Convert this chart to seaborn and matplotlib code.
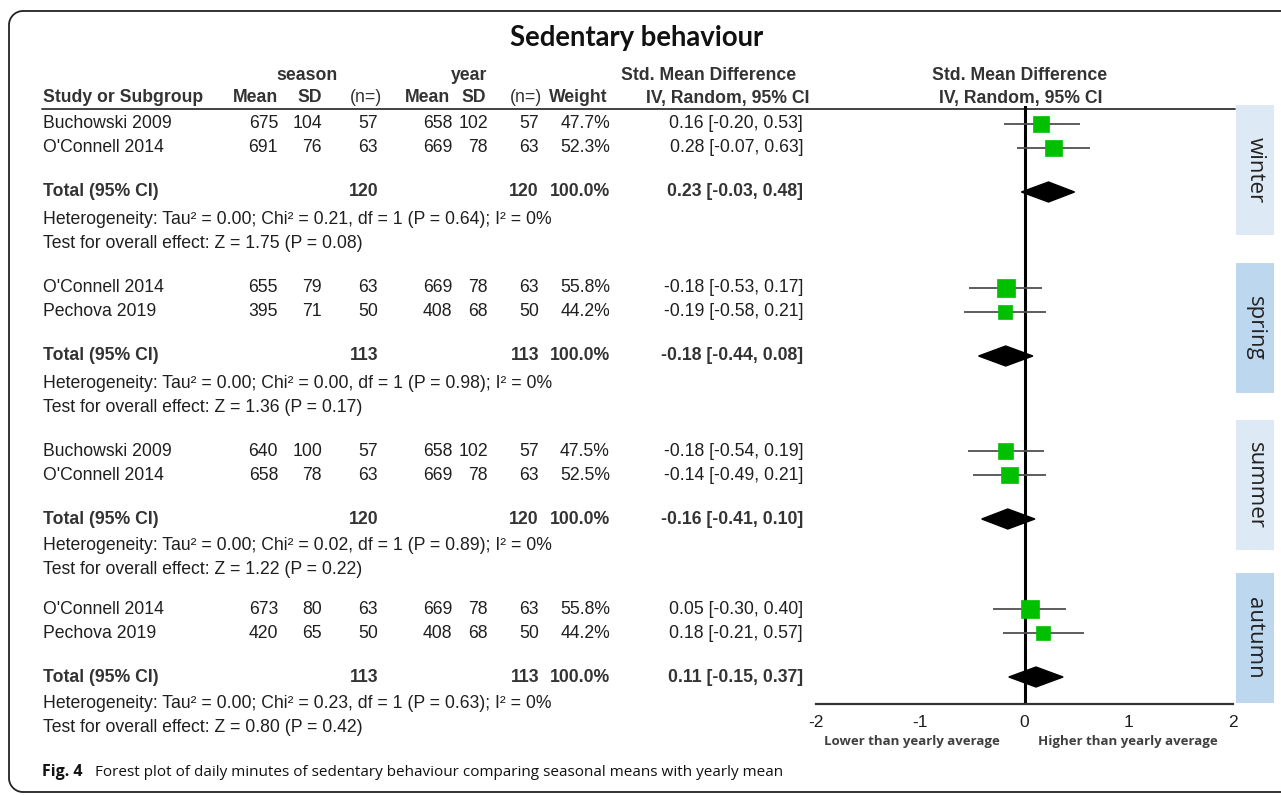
import numpy as np
import pandas as pd
import matplotlib.pyplot as plt
import seaborn as sns
from matplotlib.patches import Rectangle, Polygon

# ---- data ----
seasons = ['winter', 'spring', 'summer', 'autumn']
studies = [["Buchowski 2009", "O'Connell 2014"],
           ["O'Connell 2014", "Pechova 2019"],
           ["Buchowski 2009", "O'Connell 2014"],
           ["O'Connell 2014", "Pechova 2019"]]
season_mean = [[675, 691], [655, 395], [640, 658], [673, 420]]
season_sd = [[104, 76], [79, 71], [100, 78], [80, 65]]
season_n = [[57, 63], [63, 50], [57, 63], [63, 50]]
year_mean = [[658, 669], [669, 408], [658, 669], [669, 408]]
year_sd = [[102, 78], [78, 68], [102, 78], [78, 68]]
year_n = [[57, 63], [63, 50], [57, 63], [63, 50]]
weight = [[47.7, 52.3], [55.8, 44.2], [47.5, 52.5], [55.8, 44.2]]
smd = [[0.16, 0.28], [-0.18, -0.19], [-0.18, -0.14], [0.05, 0.18]]
smd_lo = [[-0.20, -0.07], [-0.53, -0.58], [-0.54, -0.49], [-0.30, -0.21]]
smd_hi = [[0.53, 0.63], [0.17, 0.21], [0.19, 0.21], [0.40, 0.57]]
total_n = [120, 113, 120, 113]
total_smd = [0.23, -0.18, -0.16, 0.11]
total_lo = [-0.03, -0.44, -0.41, -0.15]
total_hi = [0.48, 0.08, 0.10, 0.37]
tau2 = [0.00, 0.00, 0.00, 0.00]
chi2 = [0.21, 0.00, 0.02, 0.23]
het_p = [0.64, 0.98, 0.89, 0.63]
i2 = [0, 0, 0, 0]
z_val = [1.75, 1.36, 1.22, 0.80]
z_p = [0.08, 0.17, 0.22, 0.42]
xticks = [-2, -1, 0, 1, 2]

# ---- layout (pixel positions) ----
group_y = [124, 288, 451, 609]
offs = [0, 24, 68, 95, 119]
box_top = [105, 263, 420, 573]
box_h = 130
W, H = 1281, 795

sns.set_style('white')
plt.rcParams['font.family'] = ['Liberation Sans', 'DejaVu Sans']
tc = '#1f1f1f'
hc = '#333333'
fs = 12.7

fig = plt.figure(figsize=(12.81, 7.95), dpi=100)
bg = fig.add_axes([0, 0, 1, 1])
bg.set_xlim(0, W)
bg.set_ylim(H, 0)
bg.axis('off')

# outer frame, open on the right
r = 14
t = np.linspace(0, np.pi / 2, 20)
fx = np.concatenate([[W + 5], 9 + r - r * np.sin(t), 9 + r - r * np.cos(t), [W + 5]])
fy = np.concatenate([[11], 11 + r - r * np.cos(t), 792 - r + r * np.sin(t), [792]])
bg.plot(fx, fy, color='#222222', lw=1.3, clip_on=False)

bg.text(637, 38, 'Sedentary behaviour', ha='center', va='center', fontsize=19.8,
        fontweight='bold', family=['Lato', 'DejaVu Sans'], color='#111111')

# headers
hy1, hy2 = 75, 98
bg.text(307, hy1, 'season', ha='center', va='center', fontsize=fs, fontweight='bold', color=hc)
bg.text(469, hy1, 'year', ha='center', va='center', fontsize=fs, fontweight='bold', color=hc)
bg.text(709, hy1, 'Std. Mean Difference', ha='center', va='center', fontsize=fs, fontweight='bold', color=hc)
bg.text(1020, hy1, 'Std. Mean Difference', ha='center', va='center', fontsize=fs, fontweight='bold', color=hc)
bg.text(43, hy2, 'Study or Subgroup', ha='left', va='center', fontsize=fs, fontweight='bold', color=hc)
for x, s, w in [(255, 'Mean', 'bold'), (310, 'SD', 'bold'), (366, '(n=)', 'normal'),
                (427, 'Mean', 'bold'), (474, 'SD', 'bold'), (526, '(n=)', 'normal'),
                (578, 'Weight', 'bold'), (728, 'IV, Random, 95% CI', 'bold'),
                (1021, 'IV, Random, 95% CI', 'bold')]:
    bg.text(x, hy2, s, ha='center', va='center', fontsize=fs, fontweight=w, color=hc)
bg.plot([42, 1235], [108.5, 108.5], color='#333333', lw=1.3)

# table body
cols_r = [278, 322, 378, 452, 488, 539, 610]
for g in range(4):
    y0 = group_y[g]
    for i in range(2):
        y = y0 + offs[i]
        bg.text(43, y, studies[g][i], ha='left', va='center', fontsize=fs, color=tc)
        vals = [season_mean[g][i], season_sd[g][i], season_n[g][i],
                year_mean[g][i], year_sd[g][i], year_n[g][i], f'{weight[g][i]:.1f}%']
        for x, v in zip(cols_r, vals):
            bg.text(x, y, str(v), ha='right', va='center', fontsize=fs, color=tc)
        bg.text(803, y, f'{smd[g][i]:.2f} [{smd_lo[g][i]:.2f}, {smd_hi[g][i]:.2f}]',
                ha='right', va='center', fontsize=fs, color=tc)
    y = y0 + offs[2]
    bg.text(43, y, 'Total (95% CI)', ha='left', va='center', fontsize=fs, fontweight='bold', color=hc)
    for x, v in [(378, total_n[g]), (539, total_n[g]), (610, '100.0%')]:
        bg.text(x, y, str(v), ha='right', va='center', fontsize=fs, fontweight='bold', color=hc)
    bg.text(803, y, f'{total_smd[g]:.2f} [{total_lo[g]:.2f}, {total_hi[g]:.2f}]',
            ha='right', va='center', fontsize=fs, fontweight='bold', color=hc)
    bg.text(43, y0 + offs[3],
            f'Heterogeneity: Tau\u00b2 = {tau2[g]:.2f}; Chi\u00b2 = {chi2[g]:.2f}, df = 1 '
            f'(P = {het_p[g]:.2f}); I\u00b2 = {i2[g]}%',
            ha='left', va='center', fontsize=fs, color=tc)
    bg.text(43, y0 + offs[4], f'Test for overall effect: Z = {z_val[g]:.2f} (P = {z_p[g]:.2f})',
            ha='left', va='center', fontsize=fs, color=tc)
    # season box
    bg.add_patch(Rectangle((1236, box_top[g]), 38, box_h, lw=0,
                           fc='#dde9f5' if g % 2 == 0 else '#bdd7ee'))
    bg.text(1255, box_top[g] + box_h / 2, seasons[g], rotation=-90, ha='center', va='center',
            fontsize=16, family=['Open Sans', 'DejaVu Sans'], color='#222222')

# caption
bg.text(42, 772, 'Fig. 4', ha='left', va='center', fontsize=11.5, fontweight='bold',
        family=['Open Sans', 'DejaVu Sans'], color='#111111')
bg.text(95, 772, 'Forest plot of daily minutes of sedentary behaviour comparing seasonal means with yearly mean',
        ha='left', va='center', fontsize=11, family=['Open Sans', 'DejaVu Sans'], color='#111111')

# ---- forest plot ----
x0, x1, ytop, ybot = 816, 1233, 106, 704
ax = fig.add_axes([x0 / W, 1 - ybot / H, (x1 - x0) / W, (ybot - ytop) / H])
ax.set_xlim(-2, 2)
ax.set_ylim(ybot, ytop)
ax.patch.set_alpha(0)

rows = []
for g in range(4):
    for i in range(2):
        rows.append({'y': group_y[g] + offs[i], 'smd': smd[g][i], 'lo': smd_lo[g][i],
                     'hi': smd_hi[g][i], 'weight': weight[g][i]})
df = pd.DataFrame(rows)

ax.hlines(df['y'], df['lo'], df['hi'], color='#505050', lw=1.3, zorder=2)
sns.scatterplot(data=df, x='smd', y='y', size='weight', sizes=(105, 165), size_norm=(44, 56),
                marker='s', color='#00c000', edgecolor='#00c000', linewidth=0.5,
                legend=False, ax=ax, zorder=3)

for g in range(4):
    y = group_y[g] + offs[2]
    d = 10
    ax.add_patch(Polygon([(total_lo[g], y), (total_smd[g], y - d), (total_hi[g], y),
                          (total_smd[g], y + d)], closed=True, fc='black', ec='black', zorder=4))

ax.axvline(0, color='black', lw=2.2, zorder=1)

for s in ['top', 'right', 'left']:
    ax.spines[s].set_visible(False)
ax.spines['bottom'].set_color('#333333')
ax.spines['bottom'].set_linewidth(1.6)
ax.set_xticks(xticks)
ax.set_xticklabels([str(t) for t in xticks])
ax.set_yticks([])
ax.tick_params(axis='x', direction='inout', length=12, width=1.3, color='#333333',
               labelsize=12.5, pad=2, labelcolor=tc)
ax.set_xlabel('')
ax.set_ylabel('')

bg.text(912, 742, 'Lower than yearly average', ha='center', va='center', fontsize=9.5,
        fontweight='bold', family=['Open Sans', 'DejaVu Sans'], color='#404040')
bg.text(1128, 742, 'Higher than yearly average', ha='center', va='center', fontsize=9.5,
        fontweight='bold', family=['Open Sans', 'DejaVu Sans'], color='#404040')

fig.savefig('out.png', dpi=100)
